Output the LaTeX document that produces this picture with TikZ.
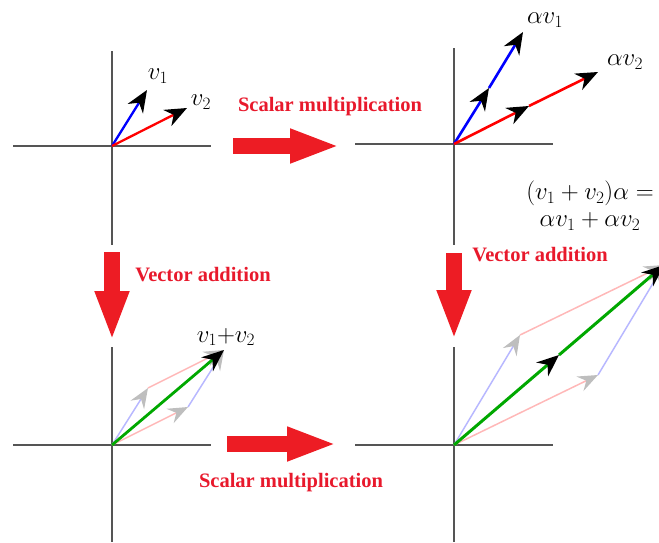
\documentclass[tikz,border=0pt]{standalone}
\usepackage{amsmath}
\usepackage{fontspec}
\newfontfamily\boldserif{Liberation Serif}
\usetikzlibrary{arrows.meta}
\definecolor{pred}{HTML}{ED1C24}
\definecolor{tred}{HTML}{E8192C}
\definecolor{axgray}{HTML}{555555}
\definecolor{vgreen}{HTML}{00A800}
\definecolor{faintblue}{HTML}{B8B8FF}
\definecolor{faintred}{HTML}{FFB8B8}
\definecolor{tipgray}{HTML}{BEBEBE}

\begin{document}
\begin{tikzpicture}[x=1pt,y=-1pt,
  ax/.style={axgray,line width=1.8pt},
  vec/.style={line width=2.3pt,-{Stealth[length=22pt 0,width=18pt 0,inset=7pt 0,color=black]}},
  faint/.style={line width=1.5pt,-{Stealth[length=20pt 0,width=16pt 0,inset=7pt 0,color=tipgray]}},
  big/.style={pred,line width=16pt,-{Triangle[length=50pt,width=31pt]}},
  txt/.style={text=tred,font=\boldserif\bfseries\fontsize{20.5}{24}\selectfont},
  lbl/.style={font=\fontsize{24}{29}\selectfont,inner sep=1pt}]
\useasboundingbox (0,0) rectangle (659,542);
% --- the four axes ---
\foreach \ox/\oy/\up/\dn in {112/146/51/245, 454/144/48/245, 112/445/347/542, 454/445/347/542}{
  \draw[ax] (\ox-99,\oy) -- (\ox+99,\oy);
  \draw[ax] (\ox,\up) -- (\ox,\dn);
}
% --- top left: v1, v2 ---
\coordinate (o1) at (112,146);
\coordinate (p1) at (147,90);
\coordinate (q1) at (187,108);
\draw[vec,blue] (o1) -- (p1);
\draw[vec,red] (o1) -- (q1);
\node[lbl] (l1) at (158,76) {$v_1$};
\node[lbl] (l2) at (201,102) {$v_2$};
% --- top right: alpha v1, alpha v2 ---
\coordinate (o2) at (454,144);
\coordinate (p2) at (489,88);
\coordinate (pp2) at (523,32);
\coordinate (q2) at (529,106);
\coordinate (qq2) at (598,72);
\draw[vec,blue,line width=2.6pt] (o2) -- (p2);
\draw[vec,blue,line width=2.6pt] (p2) -- (pp2);
\draw[vec,red,line width=2.6pt] (o2) -- (q2);
\draw[vec,red,line width=2.6pt] (q2) -- (qq2);
\node[lbl] (l3) at (545,20) {$\alpha v_1$};
\node[lbl] (l4) at (625,62) {$\alpha v_2$};
% --- bottom left: v1+v2 ---
\coordinate (o3) at (112,445);
\coordinate (a3) at (148,388);
\coordinate (b3) at (188,407);
\coordinate (c3) at (224,350);
\draw[faint,faintblue] (o3) -- (a3);
\draw[faint,faintred] (o3) -- (b3);
\draw[faint,faintred] (a3) -- (c3);
\draw[faint,faintblue] (b3) -- (c3);
\draw[vec,vgreen,line width=2.8pt] (o3) -- (c3);
\node[lbl] (l5) at (226,337) {$v_1{+}v_2$};
% --- bottom right: (v1+v2) alpha ---
\coordinate (o4) at (454,445);
\coordinate (a4) at (520,335);
\coordinate (b4) at (598,375);
\coordinate (m4) at (559,355);
\coordinate (c4) at (664,265);
\draw[faint,faintblue] (o4) -- (a4);
\draw[faint,faintred] (o4) -- (b4);
\draw[faint,faintred] (a4) -- (c4);
\draw[faint,faintblue] (b4) -- (c4);
\draw[vec,vgreen,line width=3pt] (o4) -- (m4);
\draw[vec,vgreen,line width=3pt] (m4) -- (c4);
\node[lbl,align=center] (eq) at (590,206) {$(v_1+v_2)\alpha=$\\[-2pt]$\alpha v_1+\alpha v_2$};
% --- big red arrows ---
\coordinate (s1) at (233,146); \coordinate (e1) at (340,146);
\coordinate (s2) at (112,252); \coordinate (e2) at (112,341);
\coordinate (s3) at (454,253); \coordinate (e3) at (454,340);
\coordinate (s4) at (227,444); \coordinate (e4) at (337,444);
\draw[big] (s1) -- (e1);
\draw[big] (s2) -- (e2);
\draw[big] (s3) -- (e3);
\draw[big] (s4) -- (e4);
\node[txt] (t1) at (330,107) {Scalar multiplication};
\node[txt] (t2) at (203,275) {Vector addition};
\node[txt] (t3) at (540,255) {Vector addition};
\node[txt] (t4) at (291,483) {Scalar multiplication};
\end{tikzpicture}
\end{document}
